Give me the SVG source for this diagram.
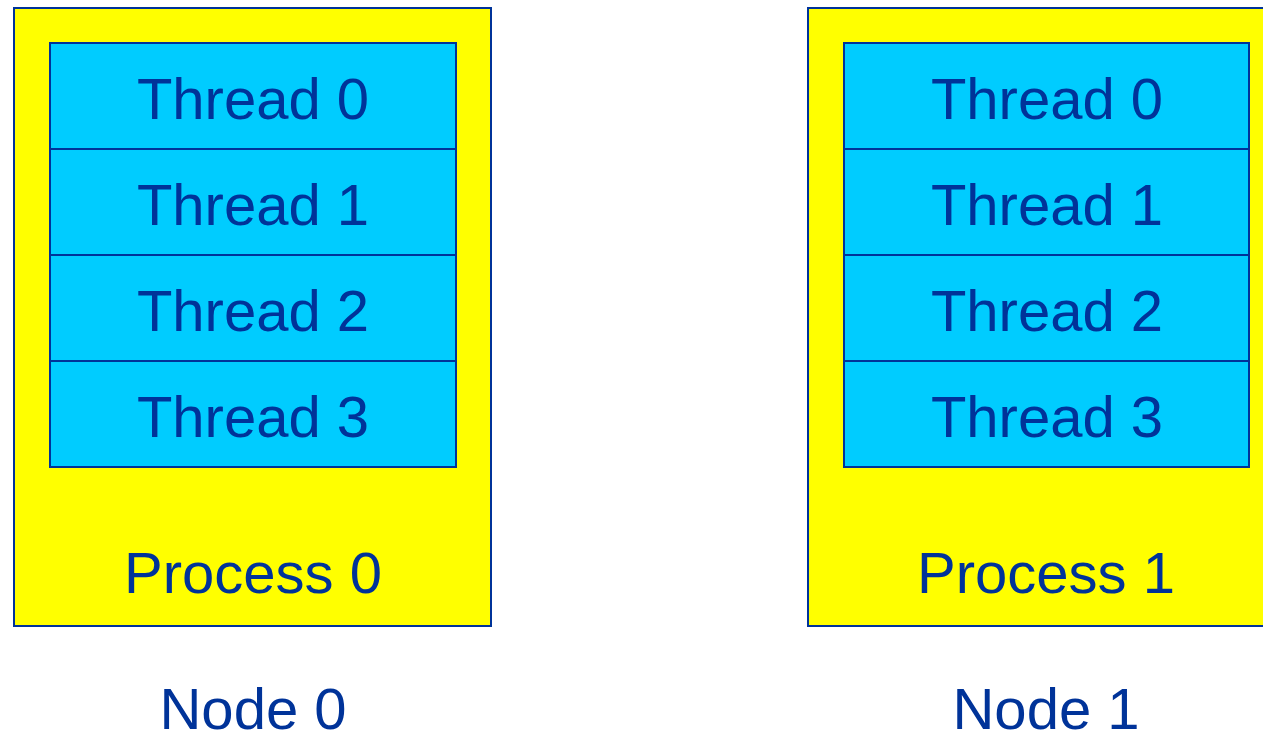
<svg xmlns="http://www.w3.org/2000/svg" width="1263" height="731" viewBox="0 0 1263 731">
<style>
.proc{fill:#FFFF00;stroke:#003399;stroke-width:2}
.thr{fill:#00CCFF;stroke:#003399;stroke-width:2}
text{font-family:"Liberation Sans",Arial,sans-serif;font-size:58px;fill:#003399;text-anchor:middle}
</style>
<rect width="1263" height="731" fill="#FFFFFF"/>
<g id="node0">
<rect class="proc" x="14" y="8" width="477" height="618"/>
<g id="threads0">
<rect class="thr" x="50" y="43" width="406" height="106"/>
<rect class="thr" x="50" y="149" width="406" height="106"/>
<rect class="thr" x="50" y="255" width="406" height="106"/>
<rect class="thr" x="50" y="361" width="406" height="106"/>
<text x="253" y="119">Thread 0</text>
<text x="253" y="225">Thread 1</text>
<text x="253" y="331">Thread 2</text>
<text x="253" y="437">Thread 3</text>
</g>
<text x="253" y="593">Process 0</text>
<text x="253" y="729">Node 0</text>
</g>
<g id="node1">
<rect class="proc" x="808" y="8" width="477" height="618"/>
<g id="threads1">
<rect class="thr" x="844" y="43" width="405" height="106"/>
<rect class="thr" x="844" y="149" width="405" height="106"/>
<rect class="thr" x="844" y="255" width="405" height="106"/>
<rect class="thr" x="844" y="361" width="405" height="106"/>
<text x="1047" y="119">Thread 0</text>
<text x="1047" y="225">Thread 1</text>
<text x="1047" y="331">Thread 2</text>
<text x="1047" y="437">Thread 3</text>
</g>
<text x="1046" y="593">Process 1</text>
<text x="1046" y="729">Node 1</text>
</g>
<g id="connectors"/>
</svg>
